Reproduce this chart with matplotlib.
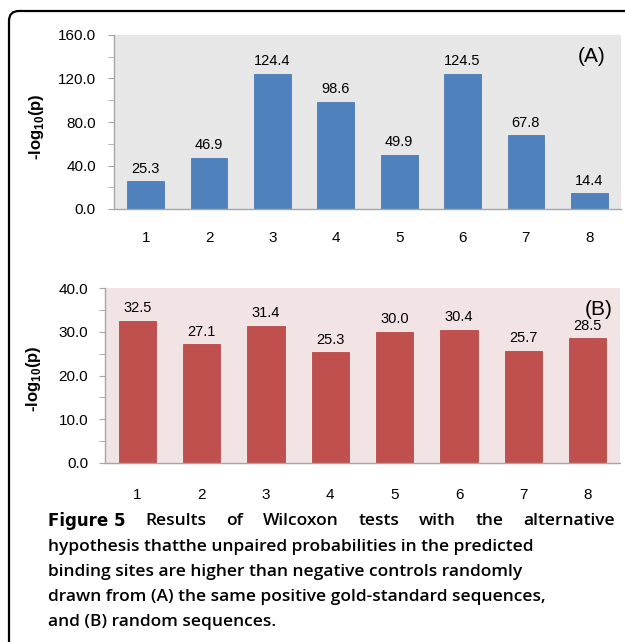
import matplotlib
matplotlib.use("Agg")
import matplotlib.pyplot as plt
import matplotlib.patches as mpatches
from matplotlib.transforms import IdentityTransform
from matplotlib.ticker import MultipleLocator, FormatStrFormatter

categories = [1, 2, 3, 4, 5, 6, 7, 8]
values_a = [25.3, 46.9, 124.4, 98.6, 49.9, 124.5, 67.8, 14.4]
values_b = [32.5, 27.1, 31.4, 25.3, 30.0, 30.4, 25.7, 28.5]
panel_a = "(A)"
panel_b = "(B)"
ylabel = "-log$_{\\mathbf{10}}$(p)"
caption_bold = "Figure 5"
caption_line1 = "Results of Wilcoxon tests with the alternative"
caption_rest = [
    "hypothesis thatthe unpaired probabilities in the predicted",
    "binding sites are higher than negative controls randomly",
    "drawn from (A) the same positive gold-standard sequences,",
    "and (B) random sequences.",
]

plt.rcParams['font.family'] = ['Liberation Sans', 'DejaVu Sans']
plt.rcParams['mathtext.fontset'] = 'custom'
plt.rcParams['mathtext.bf'] = 'Liberation Sans:bold'
plt.rcParams['mathtext.rm'] = 'Liberation Sans'

W, H = 625, 642
fig = plt.figure(figsize=(W / 100, H / 100), dpi=100)

def px_axes(l, r, t, b):
    return fig.add_axes([l / W, 1 - b / H, (r - l) / W, (b - t) / H])

def style(ax, bg, ymax, major, label_pad, ytick_pad):
    ax.set_facecolor(bg)
    for s in ['top', 'right']:
        ax.spines[s].set_visible(False)
    for s in ['left', 'bottom']:
        ax.spines[s].set_color('#a6a6a6')
        ax.spines[s].set_linewidth(1.0)
    ax.set_xlim(0.5, 8.5)
    ax.set_ylim(0, ymax)
    ax.yaxis.set_major_locator(MultipleLocator(major))
    ax.yaxis.set_minor_locator(MultipleLocator(major / 2))
    ax.yaxis.set_major_formatter(FormatStrFormatter('%.1f'))
    ax.tick_params(axis='y', which='both', direction='out', length=4,
                   color='#a6a6a6', labelsize=11, pad=ytick_pad)
    ax.tick_params(axis='x', length=0, labelsize=11, pad=label_pad)
    ax.set_xticks(categories)
    ax.set_xticklabels([str(c) for c in categories])

ax1 = px_axes(114, 621, 35, 209)
style(ax1, '#e7e7e7', 160, 40, 16, 9)
ax1.bar(categories, values_a, width=0.58, color='#4f81bd',
        edgecolor='#4a7ab3', linewidth=0.6, zorder=2)
for c, v in zip(categories, values_a):
    ax1.annotate(f"{v:.1f}", (c, v), xytext=(0, 4), textcoords='offset points',
                 ha='center', va='bottom', fontsize=10.5)
ax1.text(0.97, 0.875, panel_a, transform=ax1.transAxes, ha='right', va='center',
         fontsize=15)
ax1.set_ylabel(ylabel, fontsize=12, fontweight='bold')
ax1.yaxis.set_label_coords(-0.135, 0.47)

ax2 = px_axes(105, 620, 288, 463)
style(ax2, '#f2e4e4', 40, 10, 18, 8)
ax2.bar(categories, values_b, width=0.58, color='#c0504d',
        edgecolor='#b54a47', linewidth=0.6, zorder=2)
for c, v in zip(categories, values_b):
    ax2.annotate(f"{v:.1f}", (c, v), xytext=(0, 4), textcoords='offset points',
                 ha='center', va='bottom', fontsize=10.5)
ax2.text(0.985, 0.88, panel_b, transform=ax2.transAxes, ha='right', va='center',
         fontsize=15)
ax2.set_ylabel(ylabel, fontsize=12, fontweight='bold')
ax2.yaxis.set_label_coords(-0.12, 0.48)

# border with rounded corner
box = mpatches.FancyBboxPatch((9, -60), 800, (H - 11) + 60,
                              boxstyle="round,pad=0,rounding_size=10",
                              transform=IdentityTransform(), fill=False,
                              edgecolor='black', linewidth=1.6, clip_on=False)
fig.add_artist(box)

# caption
cap_font = ['Open Sans', 'DejaVu Sans']
bold_font = ['DejaVu Sans']
cap_size = 12.5
x0, x1 = 48, 615
line_y = [521, 547, 572, 597, 622]
fig.canvas.draw()
renderer = fig.canvas.get_renderer()
tokens = [(caption_bold, 'bold', 12, bold_font)] + \
         [(w, 'semibold', cap_size, cap_font) for w in caption_line1.split()]
texts = []
widths = []
for tok, wt, sz, fam in tokens:
    t = fig.text(0, 1 - line_y[0] / H, tok, fontsize=sz, fontweight=wt,
                 family=fam, va='center', ha='left')
    texts.append(t)
    widths.append(t.get_window_extent(renderer).width)
gap = (x1 - x0 - sum(widths)) / (len(tokens) - 1)
x = x0
for t, w in zip(texts, widths):
    t.set_x(x / W)
    x += w + gap
for i, line in enumerate(caption_rest):
    fig.text(x0 / W, 1 - line_y[i + 1] / H, line, fontsize=cap_size,
             fontweight='semibold', family=cap_font, va='center', ha='left')

fig.savefig('out.png', dpi=100)
